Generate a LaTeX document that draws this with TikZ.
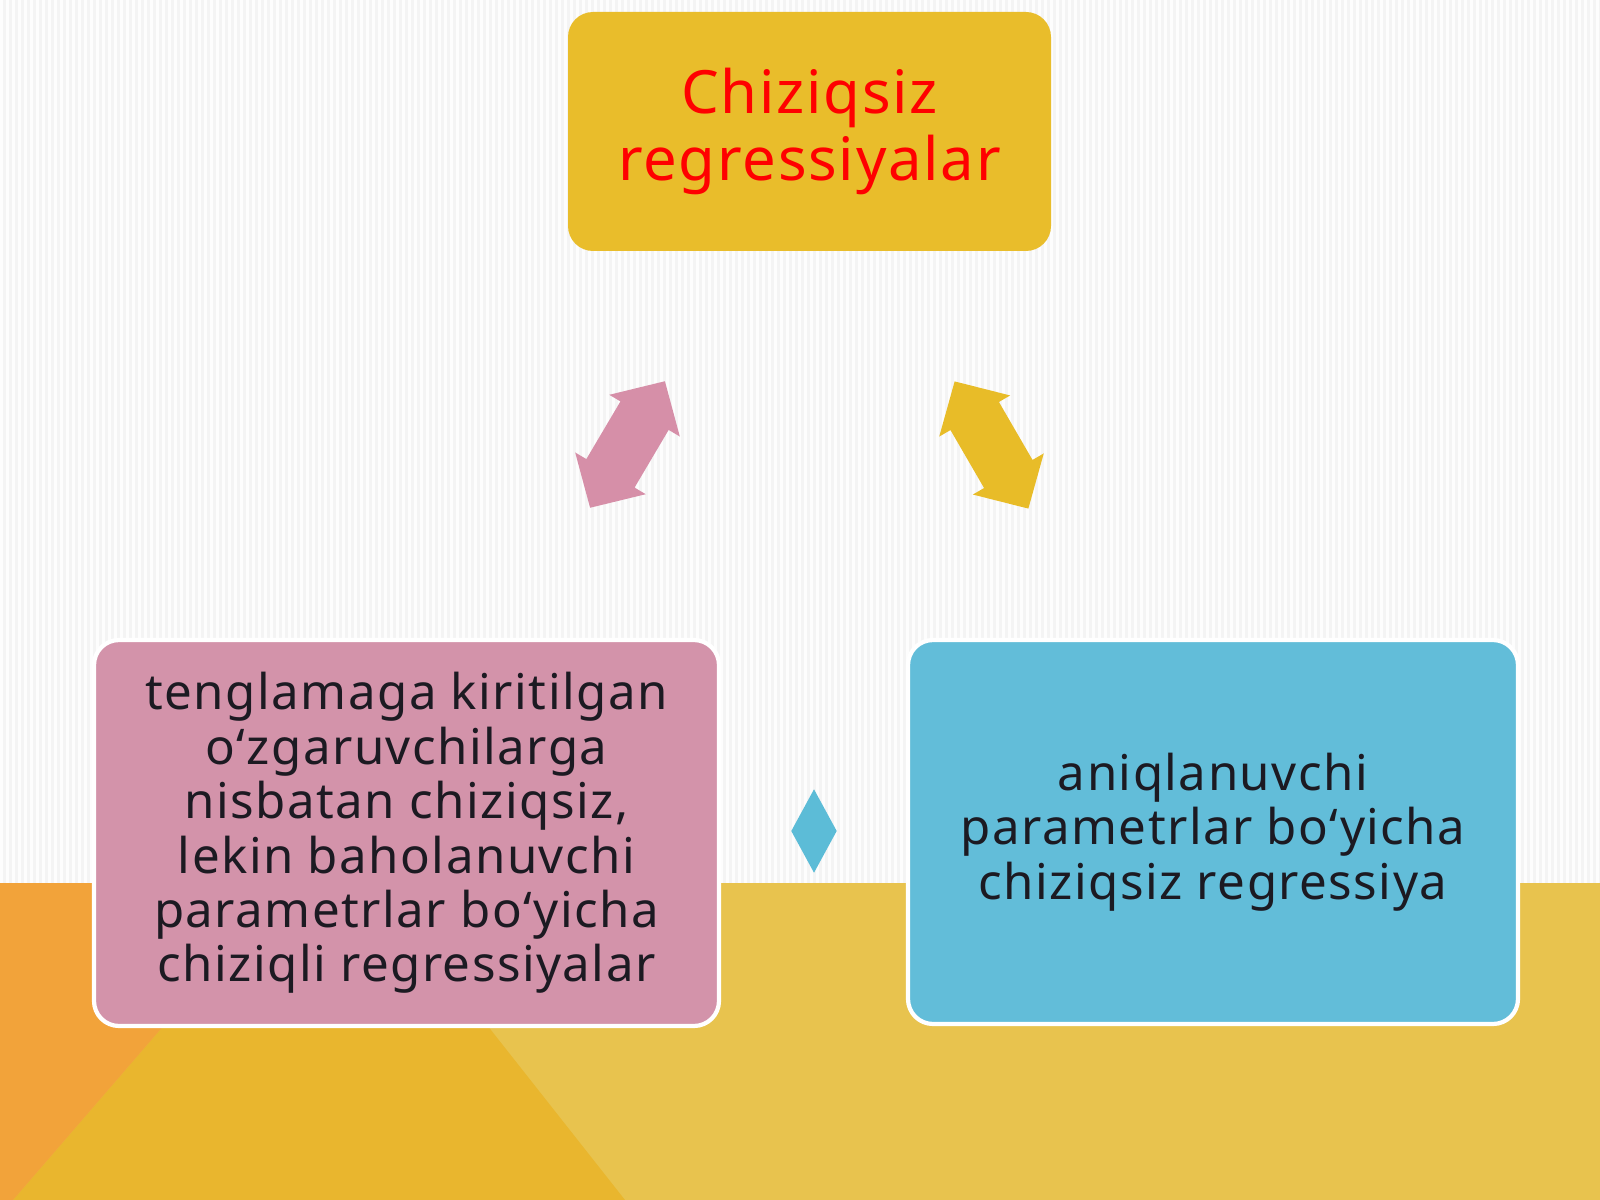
\documentclass[tikz,border=0pt]{standalone}
\usepackage{fontspec}
\setmainfont{Noto Sans}
\newfontfamily\slidefont{Noto Sans}[LetterSpace=3]
\usetikzlibrary{shapes.geometric}

\definecolor{paper}{HTML}{F4F4F4}
\definecolor{stripe}{HTML}{FDFDFD}
\definecolor{orangeband}{HTML}{F2A33A}
\definecolor{darkband}{HTML}{E9B62E}
\definecolor{lightband}{HTML}{E8C34E}
\definecolor{gold}{HTML}{E9BD2B}
\definecolor{rose}{HTML}{D393AA}
\definecolor{sky}{HTML}{62BDD9}
\definecolor{rosearrow}{HTML}{D68FA8}
\definecolor{goldarrow}{HTML}{E8BC28}
\definecolor{gem}{HTML}{5CBCD7}
\definecolor{ink}{HTML}{1C1A22}
\definecolor{title}{HTML}{FF0000}

\tikzset{
  box/.style={rectangle, rounded corners=2.5mm, inner sep=0pt, align=center,
    font=\slidefont\fontsize{14pt}{15.5pt}\selectfont, text=ink},
  pics/twoway/.style={code={
    \fill[#1] (-73.5,0) -- (-33.5,41) -- (-33.5,28) -- (33.5,28) -- (33.5,41)
      -- (73.5,0) -- (33.5,-41) -- (33.5,-28) -- (-33.5,-28) -- (-33.5,-41) -- cycle;
  }},
}

\begin{document}
\begin{tikzpicture}[x=0.1mm, y=-0.1mm]
  \useasboundingbox (0,0) rectangle (1600,1200);

  % background
  \fill[paper] (0,0) rectangle (1600,883);
  \foreach \i in {0,6,...,1596}
    \fill[stripe] (\i,0) rectangle (\i+3,883);
  \fill[lightband] (0,883) rectangle (1600,1200);
  \fill[darkband] (287,883) -- (375,883) -- (625,1200) -- (13,1200) -- cycle;
  \fill[orangeband] (0,883) -- (287,883) -- (13,1200) -- (0,1200) -- cycle;

  % boxes
  \node[box, fill=gold, minimum width=48.3mm, minimum height=23.9mm, text=title,
    font=\slidefont\fontsize{17pt}{18.8pt}\selectfont] (top) at (809.5,131.5)
    {Chiziqsiz\\regressiyalar};
  \node[box, fill=rose, draw=white, line width=1.2pt, minimum width=62.5mm, minimum height=38.6mm]
    (left) at (406.5,833)
    {tenglamaga kiritilgan\\o‘zgaruvchilarga\\nisbatan chiziqsiz,\\lekin baholanuvchi\\parametrlar bo‘yicha\\chiziqli regressiyalar};
  \node[box, fill=sky, draw=white, line width=1.2pt, minimum width=61mm, minimum height=38.4mm]
    (right) at (1213,832)
    {aniqlanuvchi\\parametrlar bo‘yicha\\chiziqsiz regressiya};

  % arrows and diamond
  \pic[rotate=59.4] (leftarrow) at (627.5,444.5) {twoway=rosearrow};
  \pic[rotate=120.1] (rightarrow) at (991.5,445) {twoway=goldarrow};
  \node[diamond, fill=gem, inner sep=0pt, minimum width=4.6mm, minimum height=8.4mm] (gem) at (814,831) {};
\end{tikzpicture}
\end{document}
